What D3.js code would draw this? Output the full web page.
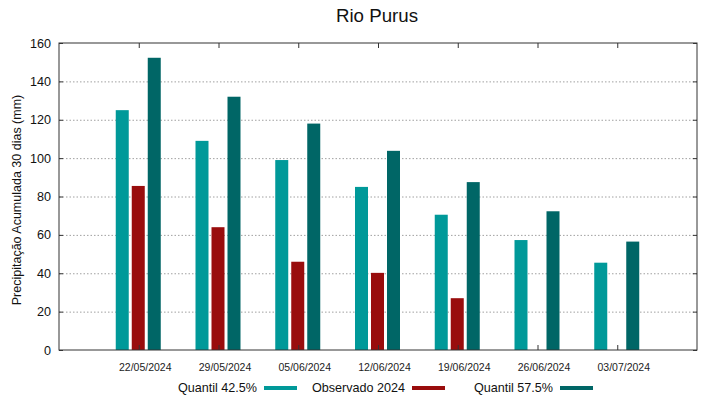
<!DOCTYPE html>
<html>
<head>
<meta charset="utf-8">
<script src="https://cdn.jsdelivr.net/npm/d3@7"></script>
<style>
  body { margin: 0; background: #fff; }
  svg { display: block; font-family: "Liberation Sans", Arial, sans-serif; }
  .grid line { stroke: #a0a0a0; stroke-dasharray: 1.5 2; }
</style>
</head>
<body>
<div id="chart"></div>
<script>
const dates = ['22/05/2024', '29/05/2024', '05/06/2024', '12/06/2024', '19/06/2024', '26/06/2024', '03/07/2024'];
const q425 = [125, 109, 99, 85, 70.5, 57.3, 45.5];
const observed = [85.5, 64, 46, 40.2, 27, null, null];
const q575 = [152.3, 132, 118, 103.8, 87.5, 72.3, 56.5];
const yTicks = [0, 20, 40, 60, 80, 100, 120, 140, 160];

const series = [
    { name: 'Quantil 42.5%', values: q425, color: '#009999', offset: -16.5 },
    { name: 'Observado 2024', values: observed, color: '#990d0d', offset: -0.5 },
    { name: 'Quantil 57.5%', values: q575, color: '#006666', offset: 15.5 }
];

const W = 719, H = 399;
const margin = { top: 43, right: 22, bottom: 49, left: 59 };
const width = W - margin.left - margin.right;
const height = H - margin.top - margin.bottom;
const barW = 13;
const font = '"Liberation Sans", Arial, sans-serif';

const svg = d3.select('#chart').append('svg')
    .attr('width', W)
    .attr('height', H);

const g = svg.append('g')
    .attr('transform', `translate(${margin.left},${margin.top})`);

// gnuplot style: categories at 0..6, range -1..7
const x = d3.scaleLinear().domain([-1, 7]).range([0, width]);
const y = d3.scaleLinear().domain([0, 160]).range([height, 0]);

g.append('g')
    .attr('class', 'grid')
    .call(d3.axisLeft(y).tickValues(yTicks.slice(1, -1)).tickSize(-width).tickFormat(''))
    .call(s => s.select('.domain').remove());

series.forEach(s => {
    g.selectAll(null)
        .data(s.values.map((v, i) => ({ v, i })).filter(d => d.v != null))
        .enter()
        .append('rect')
        .attr('x', d => x(d.i) + s.offset - barW / 2)
        .attr('width', barW)
        .attr('y', d => y(d.v))
        .attr('height', d => height - y(d.v))
        .attr('fill', s.color);
});

// frame
g.append('rect')
    .attr('width', width)
    .attr('height', height)
    .attr('fill', 'none')
    .attr('stroke', '#333')
    .attr('stroke-width', 1);

// x ticks (inward, top and bottom)
const xIdx = d3.range(dates.length);
g.append('g')
    .attr('transform', `translate(0,${height})`)
    .call(d3.axisBottom(x).tickValues(xIdx).tickSize(-5).tickPadding(14)
        .tickFormat(i => dates[i]))
    .call(s => s.select('.domain').remove())
    .call(s => s.selectAll('line').attr('stroke', '#333'))
    .call(s => s.selectAll('text').attr('font-size', 10.5).attr('fill', '#222')
        .attr('dx', 6).attr('font-family', font));

g.append('g')
    .call(d3.axisTop(x).tickValues(xIdx).tickSize(-5).tickFormat(''))
    .call(s => s.select('.domain').remove())
    .call(s => s.selectAll('line').attr('stroke', '#333'));

// y ticks, left with labels, right inward
g.append('g')
    .call(d3.axisLeft(y).tickValues(yTicks).tickSize(-4).tickPadding(8))
    .call(s => s.select('.domain').remove())
    .call(s => s.selectAll('line').attr('stroke', '#333'))
    .call(s => s.selectAll('text').attr('font-size', 12.6).attr('fill', '#111')
        .attr('font-family', font));

g.append('g')
    .attr('transform', `translate(${width},0)`)
    .call(d3.axisRight(y).tickValues(yTicks).tickSize(-4).tickFormat(''))
    .call(s => s.select('.domain').remove())
    .call(s => s.selectAll('line').attr('stroke', '#333'));

// title
svg.append('text')
    .attr('x', 377)
    .attr('y', 22)
    .attr('text-anchor', 'middle')
    .attr('font-size', 18.7)
    .attr('fill', '#111')
    .text('Rio Purus');

// y label
svg.append('text')
    .attr('transform', `translate(21,200) rotate(-90)`)
    .attr('text-anchor', 'middle')
    .attr('font-size', 12.5)
    .attr('fill', '#111')
    .text('Precipitação Acumulada 30 dias (mm)');

// legend
const legendPos = [
    { textEnd: 257, sx: 264 },
    { textEnd: 405, sx: 412 },
    { textEnd: 553, sx: 560 }
];
series.forEach((s, i) => {
    const p = legendPos[i];
    svg.append('text')
        .attr('x', p.textEnd)
        .attr('y', 392)
        .attr('text-anchor', 'end')
        .attr('font-size', 12.6)
        .attr('fill', '#111')
        .text(s.name);
    svg.append('rect')
        .attr('x', p.sx)
        .attr('y', 386)
        .attr('width', 33)
        .attr('height', 4)
        .attr('fill', s.color);
});
</script>
</body>
</html>
